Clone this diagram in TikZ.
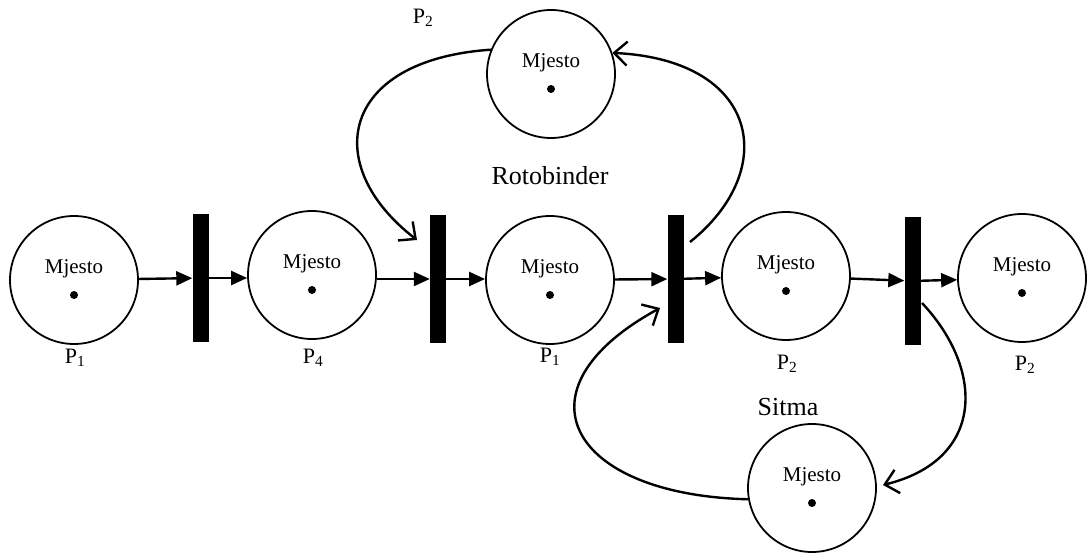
\documentclass[tikz,border=0pt]{standalone}
\usepackage{fontspec}
\setmainfont{Liberation Serif}
\usetikzlibrary{arrows.meta,calc}
\begin{document}
\begin{tikzpicture}[x=1pt,y=-1pt,
  place/.style={circle, draw, line width=1.8pt, minimum size=128pt, inner sep=0pt},
  trans/.style={rectangle, fill=black, minimum width=16pt, minimum height=128pt, inner sep=0pt},
  mj/.style={inner sep=0pt, font=\fontsize{21}{25}\selectfont},
  tok/.style={circle, fill=black, minimum size=8pt, inner sep=0pt},
  lbl/.style={inner sep=0pt, font=\fontsize{22}{26}\selectfont},
  big/.style={inner sep=0pt, font=\fontsize{26}{30}\selectfont},
  flow/.style={line width=2.4pt, -{Triangle[length=16pt,width=14pt]}},
  loopa/.style={line width=2.4pt, -{Straight Barb[length=13pt,width=24pt]}}]
\useasboundingbox (0,0) rectangle (1087,553);

% places
\node[place] (p1) at (74,280) {};
\node[place] (p4) at (312,275) {};
\node[place] (p3) at (550,280) {};
\node[place] (p2) at (786,276) {};
\node[place] (p5) at (1022,278) {};
\node[place] (tp) at (551,74) {};
\node[place] (bt) at (812,488) {};

% texts and tokens
\foreach \n in {p1,p4,p3,p2,p5,tp,bt}{
  \node[mj] (\n m) at ($(\n)+(0,-11)$) {Mjesto};
  \node[tok] (\n d) at ($(\n)+(0,15)$) {};
}

% transitions
\node[trans] (t1) at (200.5,278) {};
\node[trans] (t2) at (438,279) {};
\node[trans] (t3) at (675.5,279) {};
\node[trans] (t4) at (912.5,281) {};

% labels
\node[lbl] (l1) at (75,358) {P\textsubscript{1}};
\node[lbl] (l4) at (313,358) {P\textsubscript{4}};
\node[lbl] (l3) at (550,357) {P\textsubscript{1}};
\node[lbl] (l2) at (787,364) {P\textsubscript{2}};
\node[lbl] (l5) at (1025,365) {P\textsubscript{2}};
\node[lbl] (lt) at (423,18) {P\textsubscript{2}};
\node[big] (rb) at (550,176) {Rotobinder};
\node[big] (st) at (788,407) {Sitma};

% flow arcs
\draw[flow] (p1) -- (t1);
\draw[flow] (t1) -- (p4.west |- t1);
\draw[flow] (p4.east |- t2) -- (t2);
\draw[flow] (t2) -- (p3.west |- t2);
\draw[flow] (p3) -- (t3);
\draw[flow] (t3) -- (p2);
\draw[flow] (p2) -- (t4);
\draw[flow] (t4) -- (p5);

% loop arcs
\coordinate (e1) at (417,240);
\coordinate (s2) at (690,242);
\coordinate (e3) at (660,308);
\coordinate (s4) at (922,303);
\coordinate (e4) at (883,485);
\draw[loopa] (tp.158) .. controls (340,60) and (320,165) .. (e1);
\draw[loopa] (s2) .. controls (780,170) and (760,60) .. (tp.19);
\draw[loopa] (bt.190) .. controls (570,495) and (510,390) .. (e3);
\draw[loopa] (s4) .. controls (985,370) and (985,460) .. (e4);
\end{tikzpicture}
\end{document}
